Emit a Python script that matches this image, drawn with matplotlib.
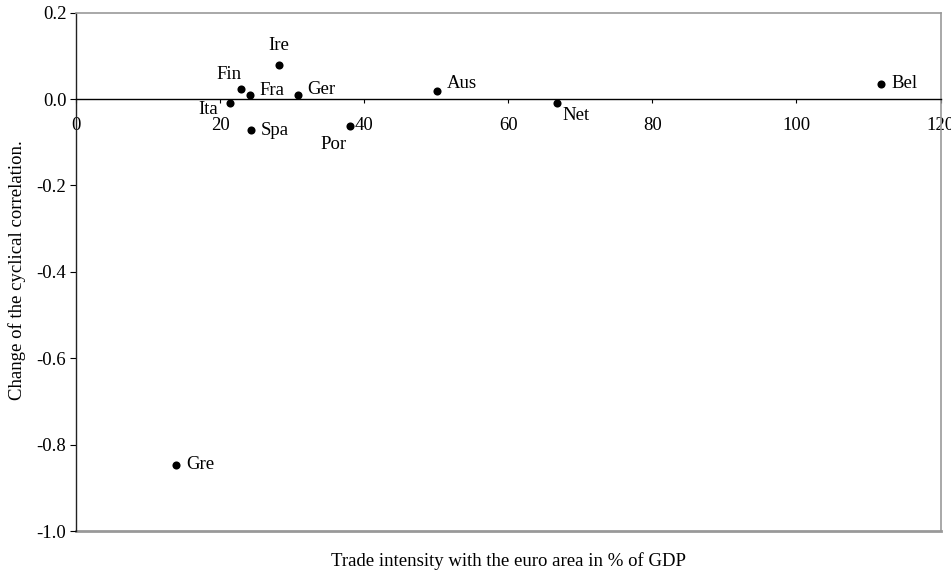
import matplotlib
matplotlib.use("Agg")
import matplotlib.pyplot as plt
from matplotlib.ticker import FormatStrFormatter

plt.rcParams['font.family'] = ['Liberation Serif', 'DejaVu Serif']

countries = ["Bel", "Aus", "Net", "Ire", "Fin", "Fra", "Ger", "Ita", "Spa", "Por", "Gre"]
trade = [111.8, 50.1, 66.7, 28.2, 22.9, 24.1, 30.8, 21.4, 24.3, 38.0, 13.9]
corr_change = [0.035, 0.019, -0.010, 0.078, 0.024, 0.009, 0.009, -0.008, -0.072, -0.063, -0.847]

x_ticks = [0, 20, 40, 60, 80, 100, 120]
y_ticks = [-1.0, -0.8, -0.6, -0.4, -0.2, 0.0, 0.2]

FS = 13.5

# label placement (pixel offsets, alignment)
label_pos = {
    "Bel": ((10, 0), "left", "center"),
    "Aus": ((10, 7), "left", "center"),
    "Net": ((6, -12), "left", "center"),
    "Ire": ((0, 20), "center", "center"),
    "Fin": ((-12, 14), "center", "center"),
    "Fra": ((10, 5), "left", "center"),
    "Ger": ((9, 6), "left", "center"),
    "Ita": ((-22, -7), "center", "center"),
    "Spa": ((10, 0), "left", "center"),
    "Por": ((-16, -18), "center", "center"),
    "Gre": ((10, 0), "left", "center"),
}

fig = plt.figure(figsize=(9.51, 5.73), dpi=100)
ax = fig.add_axes([76/951, 1-531/573, (940.5-76)/951, (531-12.7)/573])

ax.scatter(trade, corr_change, s=34, color="black", zorder=3, linewidths=0)
for c, x, y in zip(countries, trade, corr_change):
    (dx, dy), ha, va = label_pos[c]
    ax.annotate(c, (x, y), xytext=(dx, dy), textcoords="offset pixels",
                ha=ha, va=va, fontsize=FS)

ax.set_xlim(0, 120)
ax.set_ylim(-1.0, 0.2)
ax.set_xticks(x_ticks)
ax.set_yticks(y_ticks)
ax.yaxis.set_major_formatter(FormatStrFormatter('%.1f'))

ax.spines['bottom'].set_position(('data', 0))
ax.spines['bottom'].set_color('black')
ax.spines['bottom'].set_linewidth(1.0)
ax.spines['left'].set_color('#222222')
ax.spines['left'].set_linewidth(1.0)
for s in ['top', 'right']:
    ax.spines[s].set_color('#999999')
    ax.spines[s].set_linewidth(1.2)
ax.axhline(-1.0, color='#999999', linewidth=2.0, clip_on=False, zorder=1)

ax.tick_params(axis='x', direction='out', length=3, width=0.8, pad=10, labelsize=FS)
ax.tick_params(axis='y', direction='out', length=4, width=0.8, pad=3, labelsize=FS)

fig.text(17/951, 1-270/573, "Change of the cyclical correlation.", rotation=90,
         ha='center', va='center', fontsize=FS)
fig.text(0.5*(76+940.5)/951, 1-561.5/573, "Trade intensity with the euro area in % of GDP",
         ha='center', va='center', fontsize=FS)

fig.savefig("out.png", dpi=100)
